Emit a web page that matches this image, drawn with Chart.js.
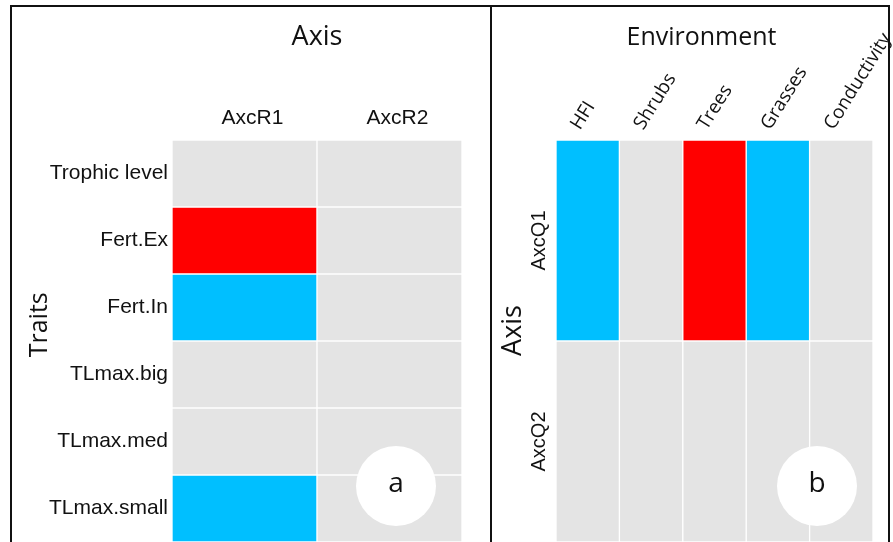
<!DOCTYPE html>
<html>
<head>
<meta charset="utf-8">
<script src="https://cdn.jsdelivr.net/npm/chart.js@4/dist/chart.umd.min.js"></script>
<style>
  html, body { margin: 0; padding: 0; background: #fff; width: 893px; height: 542px; overflow: hidden; }
  #frame { position: absolute; left: 10px; top: 5px; width: 876px; height: 600px; border: 2px solid #111; }
  #divider { position: absolute; left: 490px; top: 5px; width: 2px; height: 600px; background: #111; }
  #traitsPanel { position: absolute; left: 12px; top: 7px; }
  #envPanel { position: absolute; left: 492px; top: 7px; }
</style>
</head>
<body>
<div id="frame"></div>
<div id="divider"></div>
<canvas id="traitsPanel" width="478" height="535"></canvas>
<canvas id="envPanel" width="401" height="535"></canvas>
<script>
// Panel a: traits vs. RLQ axes (1 = positive, -1 = negative, 0 = not significant)
const traits = ['Trophic level', 'Fert.Ex', 'Fert.In', 'TLmax.big', 'TLmax.med', 'TLmax.small'];
const traitAxes = ['AxcR1', 'AxcR2'];
const axcR1 = [0, 1, -1, 0, 0, -1];
const axcR2 = [0, 0, 0, 0, 0, 0];

// Panel b: environment vs. RLQ axes
const environment = ['HFI', 'Shrubs', 'Trees', 'Grasses', 'Conductivity'];
const envAxes = ['AxcQ1', 'AxcQ2'];
const axcQ1 = [-1, 0, 1, -1, 0];
const axcQ2 = [0, 0, 0, 0, 0];

const cellColor = v => (v > 0 ? '#ff0000' : v < 0 ? '#00bfff' : '#e4e4e4');
const ink = '#111';

// White disc with the panel letter, placed from the plot corner
const panelBadge = {
  id: 'panelBadge',
  afterDatasetsDraw(chart, args, opts) {
    const { ctx, chartArea: a } = chart;
    const cx = a.right - opts.dx, cy = a.bottom - opts.dy;
    ctx.save();
    ctx.beginPath();
    ctx.arc(cx, cy, 40, 0, Math.PI * 2);
    ctx.fillStyle = '#fff';
    ctx.fill();
    ctx.fillStyle = ink;
    ctx.font = '28px "Open Sans"';
    ctx.textAlign = 'center';
    ctx.textBaseline = 'alphabetic';
    ctx.fillText(opts.text, cx, cy + 6);
    ctx.restore();
  }
};

// Each row becomes one dataset of floating bars spanning [row, row + 1]
function rowDatasets(cols, rowValues) {
  return rowValues.map((vals, r) => ({
    data: cols.map(() => [r, r + 1]),
    backgroundColor: vals.map(cellColor),
    borderColor: '#ffffff',
    borderWidth: 1,
    borderSkipped: false,
    barPercentage: 1,
    categoryPercentage: 1
  }));
}

function heatmap(canvas, cols, rows, rowValues, cfg) {
  return new Chart(canvas, {
    type: 'bar',
    data: { labels: cols, datasets: rowDatasets(cols, rowValues) },
    plugins: [panelBadge],
    options: {
      responsive: false,
      animation: false,
      devicePixelRatio: 1,
      layout: { padding: { left: 0, top: 0, bottom: 0, right: cfg.padRight } },
      plugins: {
        legend: { display: false },
        tooltip: { enabled: false },
        panelBadge: cfg.badge
      },
      scales: {
        x: {
          type: 'category',
          position: 'top',
          stacked: true,
          grid: { display: false, drawTicks: false },
          border: { display: false },
          afterFit: s => { s.height = 133; s.paddingLeft = 0; s.paddingRight = 0; },
          ticks: Object.assign({ color: ink, autoSkip: false }, cfg.xTicks),
          title: Object.assign({ display: true, color: ink }, cfg.xTitle)
        },
        y: {
          type: 'linear',
          min: 0,
          max: rows.length,
          reverse: true,
          stacked: false,
          grid: { display: false, drawTicks: false },
          border: { display: false },
          afterBuildTicks: s => { s.ticks = rows.map((_, i) => ({ value: i + 0.5 })); },
          afterFit: s => { s.width = cfg.yWidth; s.paddingTop = 0; s.paddingBottom = 0; },
          ticks: Object.assign({
            color: ink,
            autoSkip: false,
            callback: v => rows[Math.floor(v)]
          }, cfg.yTicks),
          title: Object.assign({ display: true, color: ink }, cfg.yTitle)
        }
      }
    }
  });
}

heatmap(document.getElementById('traitsPanel'), traitAxes, traits,
  traits.map((_, i) => [axcR1[i], axcR2[i]]), {
    padRight: 28,
    yWidth: 160,
    badge: { text: 'a', dx: 66, dy: 56 },
    xTicks: { font: { family: 'Liberation Sans', size: 21 }, padding: 9, labelOffset: 8, minRotation: 0, maxRotation: 0 },
    xTitle: { text: 'Axis', font: { family: 'Open Sans', size: 27 }, padding: { top: 14, bottom: 0 } },
    yTicks: { font: { family: 'Liberation Sans', size: 21 }, padding: 4 },
    yTitle: { text: '     Traits', font: { family: 'Open Sans', size: 25 }, padding: { top: 13, bottom: 0 } }
  });

heatmap(document.getElementById('envPanel'), environment, envAxes,
  [axcQ1, axcQ2], {
    padRight: 20,
    yWidth: 64,
    badge: { text: 'b', dx: 56, dy: 56 },
    xTicks: { font: { family: 'Open Sans', size: 19 }, padding: 6, labelOffset: 7, minRotation: 58, maxRotation: 58 },
    xTitle: { text: 'Environment    ', font: { family: 'Open Sans', size: 25 }, padding: { top: 16, bottom: 0 } },
    yTicks: { font: { family: 'Liberation Sans', size: 20 }, padding: 17, labelOffset: -30, minRotation: 90, maxRotation: 90 },
    yTitle: { text: '   Axis', font: { family: 'Open Sans', size: 27 }, padding: { top: 5, bottom: 0 } }
  });
</script>
</body>
</html>
